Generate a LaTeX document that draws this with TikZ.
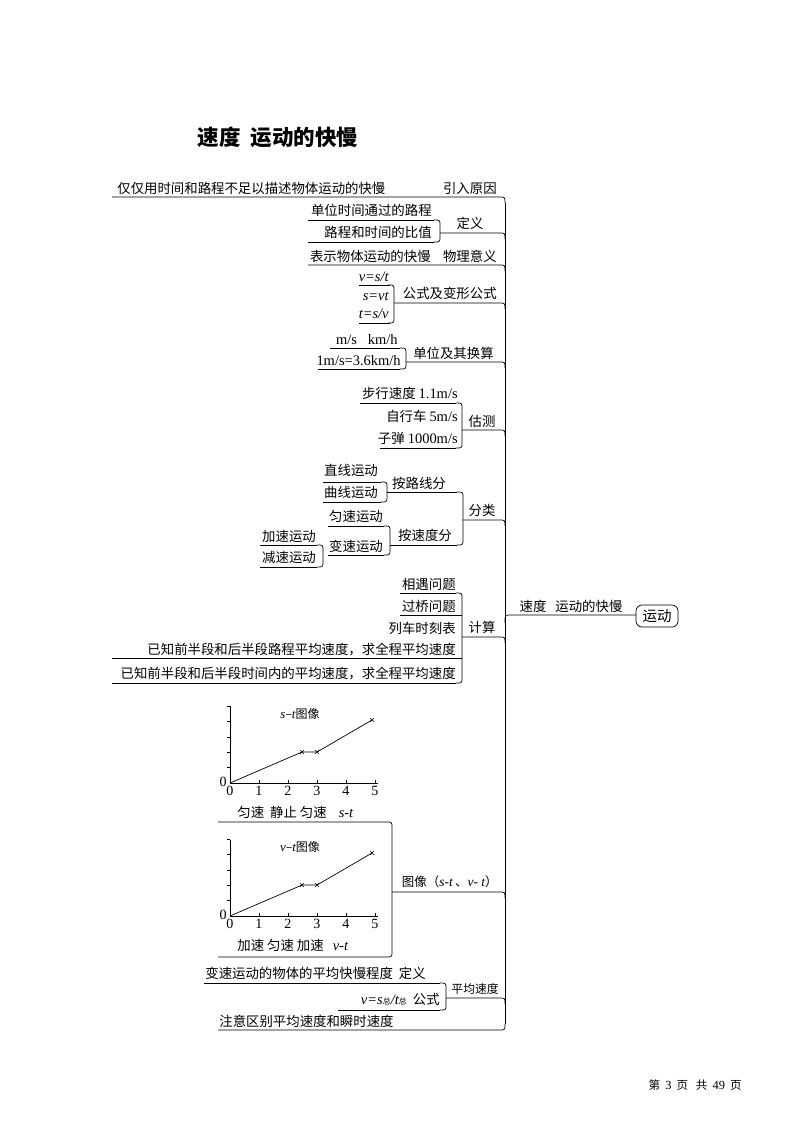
\documentclass[tikz,border=0pt]{standalone}
\usepackage{fontspec}
\setmainfont{Noto Sans CJK SC}
\newfontfamily\tm{Liberation Serif}[Scale=1.08]
\begin{document}
\begin{tikzpicture}[x=1pt,y=-1pt,line width=0.7pt,
  every node/.style={inner sep=0pt,font=\fontsize{13.4}{15}\selectfont},
  te/.style={anchor=base east}, tw/.style={anchor=base west}, tc/.style={anchor=base}]
\useasboundingbox (0,0) rectangle (794,1122);
\newcommand\brk[3]{\draw (#1-6,#2) .. controls (#1,#2) .. (#1,#2+6) -- (#1,#3-6) .. controls (#1,#3) .. (#1-6,#3);}
\newcommand\tospine[2]{\draw (#1,#2) -- (499,#2) .. controls (505,#2) .. (505,#2+6);}
% title
\node[font=\fontsize{21.5}{24}\selectfont\bfseries] (title) at (278,137) {速度\ \ 运动的快慢};
% spine
\draw (505,203) -- (505,1024);
\draw (112,197) -- (499,197) .. controls (505,197) .. (505,203);
\draw (218,1030) -- (499,1030) .. controls (505,1030) .. (505,1024);
% center
\draw (505,623) .. controls (505,615) .. (511,615) -- (636,615);
\node[tc] (c) at (571,611) {速度\ \ \ 运动的快慢};
\node[draw,rounded corners=6pt,minimum width=42pt,minimum height=22pt,inner sep=2pt,font=\fontsize{14.5}{16}\selectfont] (yd) at (657,616) {运动};
% 1
\node[tw] (a1) at (117,193) {仅仅用时间和路程不足以描述物体运动的快慢};
\node[te] (b1) at (497,193) {引入原因};
% 2 定义
\draw (308,220) -- (434,220); \draw (308,242) -- (434,242); \brk{440}{220}{242}
\tospine{440}{233}
\node[te] (a2) at (432,215) {单位时间通过的路程};
\node[te] (a3) at (432,237) {路程和时间的比值};
\node[tc] (b2) at (470,228) {定义};
% 3
\tospine{308}{265}
\node[te] (a4) at (431,261) {表示物体运动的快慢};
\node[te] (b3) at (497,261) {物理意义};
% 4
\draw (359,285) -- (390,285); \draw (359,323) -- (390,323); \brk{394}{285}{323}
\tospine{394}{303}
\node[te] (a5) at (389,281) {\tm\itshape v=s/t};
\node[te] (a6) at (389,300) {\tm\itshape s=vt};
\node[te] (a7) at (389,318) {\tm\itshape t=s/v};
\node[te] (b4) at (497,298) {公式及变形公式};
% 5
\draw (330,348) -- (400,348); \draw (318,369) -- (400,369); \brk{406}{348}{369}
\tospine{406}{362}
\node[te] (a8) at (398,344) {\tm m/s\ \ \ km/h};
\node[te] (a9) at (401,365) {\tm 1m/s=3.6km/h};
\node[te] (b5) at (494,358) {单位及其换算};
% 6 估测
\draw (360,403) -- (456,403); \draw (380,448) -- (456,448); \brk{462}{403}{448}
\tospine{462}{430}
\node[te] (a10) at (458,398) {步行速度 {\tm 1.1m/s}};
\node[te] (a11) at (458,421) {自行车 {\tm 5m/s}};
\node[te] (a12) at (458,443) {子弹 {\tm 1000m/s}};
\node[tc] (b6) at (482,426) {估测};
% 7 分类
\draw (387,492) -- (457,492); \draw (390,545) -- (457,545); \brk{463}{492}{545}
\tospine{463}{520}
\node[tc] (b7) at (482,515) {分类};
\node[tc] (c1) at (419,488) {按路线分};
\node[tc] (c2) at (425,540) {按速度分};
\draw (323,482) -- (381,482); \draw (323,502) -- (381,502); \brk{387}{482}{502}
\node[tc] (d1) at (351,475) {直线运动};
\node[tc] (d2) at (351,497) {曲线运动};
\draw (328,526) -- (384,526); \draw (328,555) -- (384,555); \brk{390}{526}{555}
\node[tc] (d3) at (356,521) {匀速运动};
\node[tc] (d4) at (356,551) {变速运动};
\draw (260,545) -- (317,545); \draw (260,567) -- (317,567); \brk{323}{545}{567}
\node[tc] (e1) at (289,541) {加速运动};
\node[tc] (e2) at (289,562) {减速运动};
% 8 计算
\draw (400,593) -- (456,593); \draw (400,615) -- (462,615); \draw (112,658) -- (462,658); \draw (112,683) -- (456,683);
\brk{462}{593}{683}
\tospine{462}{637}
\node[te] (f1) at (456,589) {相遇问题};
\node[te] (f2) at (456,611) {过桥问题};
\node[te] (f3) at (456,633) {列车时刻表};
\node[te] (f4) at (456,654) {已知前半段和后半段路程平均速度，求全程平均速度};
\node[te] (f5) at (456,678) {已知前半段和后半段时间内的平均速度，求全程平均速度};
\node[tc] (b8) at (482,632) {计算};
% 9 graphs
\draw (218,822) -- (386,822) .. controls (392,822) .. (392,828) -- (392,951) .. controls (392,957) .. (386,957) -- (218,957);
\tospine{392}{892}
\node[te,font=\fontsize{12.5}{14}\selectfont] (b9) at (498,886) {图像（{\tm\itshape s-t}\,、{\tm\itshape v- t}）};
\foreach \oy/\top/\ttl/\lab in {783/706/{{\tm\itshape s}–{\tm\itshape t}图像}/{匀速\ \ 静止 匀速\ \ \ \ {\tm\itshape s-t}},916/840/{{\tm\itshape v}–{\tm\itshape t}图像}/{加速\ 匀速\ 加速\ \ \ {\tm\itshape v-t}}}{
  \draw[line width=0.5pt] (230,\oy) -- (230,\top);
  \draw[line width=0.5pt] (230,\oy) -- (378,\oy);
  \foreach \k in {0,...,5}{\draw[line width=0.5pt] (230+29*\k,\oy) -- (230+29*\k,\oy-3);
    \node[tc,font=\tm\fontsize{13}{14}\selectfont] at (230+29*\k,\oy+12) {\k};}
  \foreach \k in {1,...,5}{\draw[line width=0.5pt] (230,\oy-15.4*\k) -- (227,\oy-15.4*\k);}
  \node[te,font=\tm\fontsize{13}{14}\selectfont] at (227,\oy+3) {0};
  \draw (230,\oy) -- (302,\oy-31) -- (317,\oy-31) -- (372,\oy-63);
  \foreach \px/\py in {302/31,317/31,372/63}{\draw[line width=0.4pt] (\px-2,\oy-\py-2) -- (\px+2,\oy-\py+2) (\px-2,\oy-\py+2) -- (\px+2,\oy-\py-2);}
  \node[tc,font=\fontsize{12}{13}\selectfont] at (300,\oy-65) {\ttl};
  \node[tw] at (237,\oy+34) {\lab};
}
% 10 平均速度
\draw (204,983) -- (440,983); \draw (338,1010) -- (440,1010); \brk{446}{983}{1010}
\tospine{446}{998}
\node[tw] (g1) at (205,978) {变速运动的物体的平均快慢程度\ \ 定义};
\node[te] (g2) at (440,1004) {{\tm\itshape v=s}{\fontsize{8}{9}\selectfont 总}{\tm\itshape/t}{\fontsize{8}{9}\selectfont 总}\ \ 公式};
\node[te,font=\fontsize{11.8}{13}\selectfont] (b10) at (499,993) {平均速度};
% 11
\node[tw] (h1) at (219,1026) {注意区别平均速度和瞬时速度};
% footer
\node[te,font=\fontsize{11.5}{13}\selectfont] (ft) at (742,1089) {第\ \ {\tm 3}\ \ 页\ \ \ 共\ \ {\tm 49}\ \ 页};
\end{tikzpicture}
\end{document}
